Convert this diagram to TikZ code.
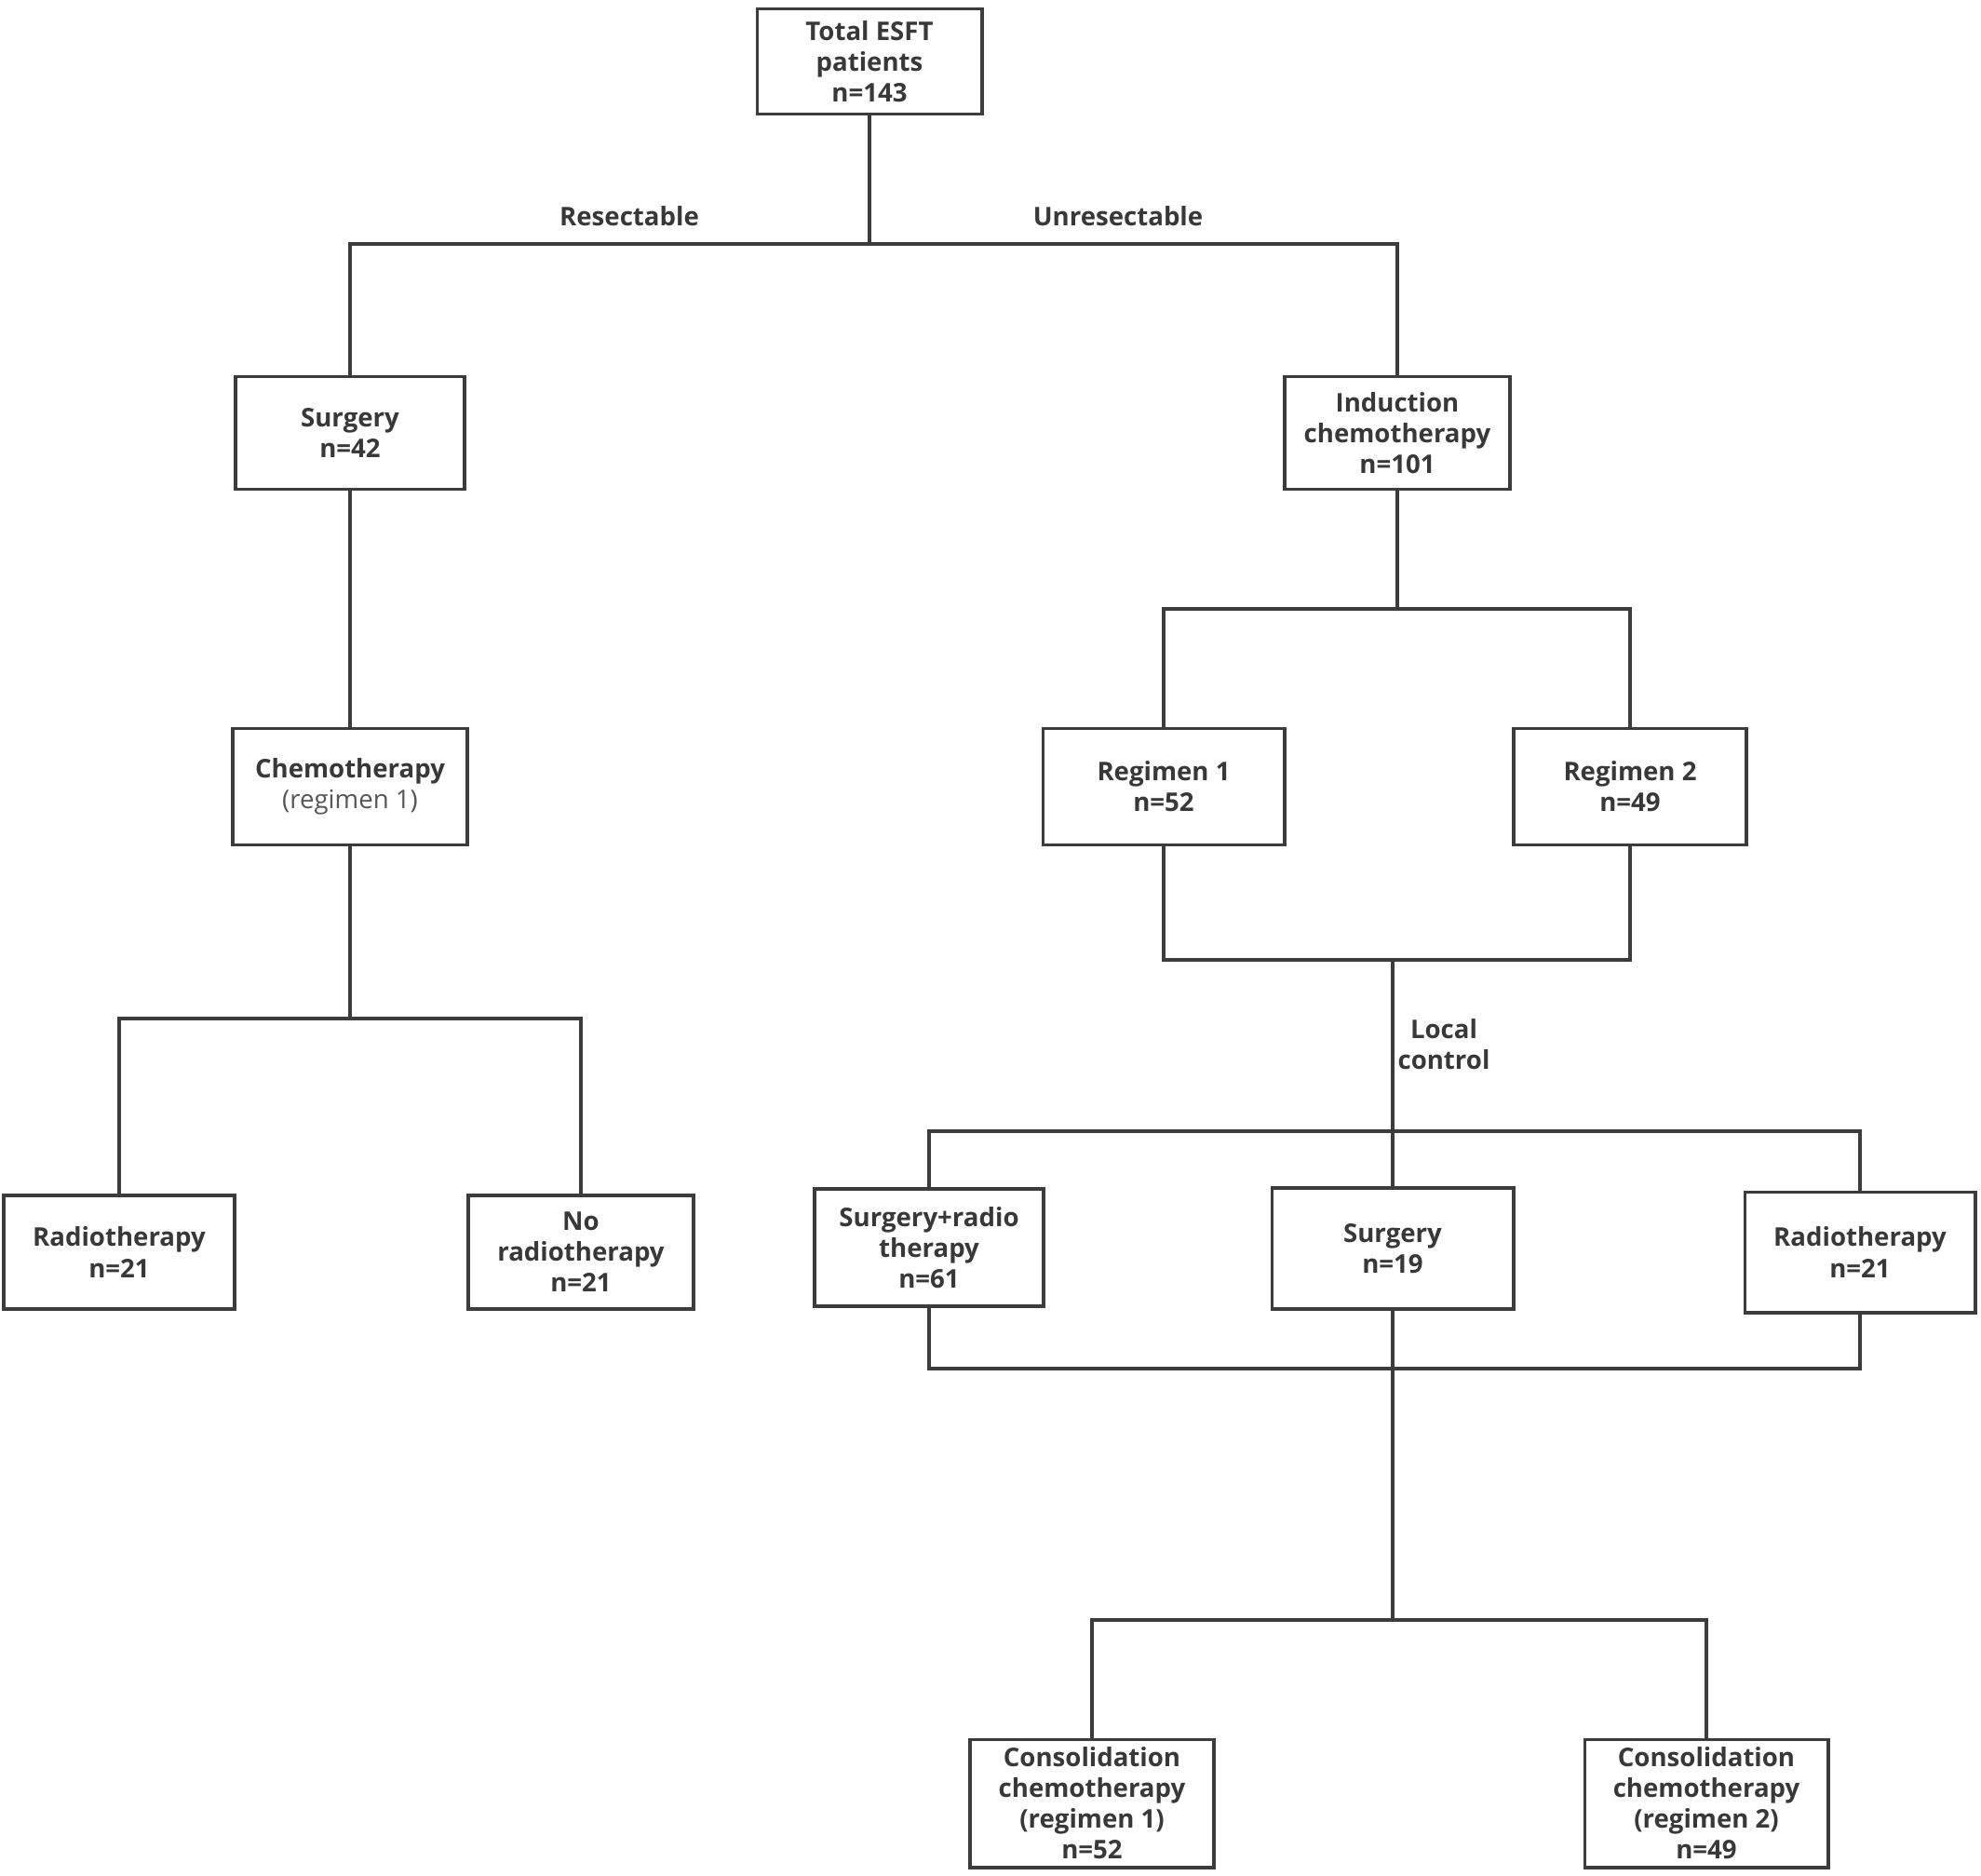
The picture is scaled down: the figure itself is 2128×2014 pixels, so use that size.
\documentclass[tikz,border=0pt]{standalone}
\usepackage{fontspec}
\setmainfont{Open Sans}
\definecolor{ln}{HTML}{3C3C3C}
\definecolor{tx}{HTML}{383838}
\begin{document}
\begin{tikzpicture}[x=0.01cm,y=-0.01cm,
  box/.style={draw=ln,line width=1.1pt,fill=white,align=center,inner sep=0pt,
    font=\fontsize{7.85}{9.4}\selectfont\bfseries,text=tx},
  lbl/.style={align=center,font=\fontsize{7.85}{9.4}\selectfont\bfseries,text=tx},
  con/.style={draw=ln,line width=1.1pt}]
\useasboundingbox (0,0) rectangle (2128,2014);
% boxes (sizes from reference, 1 px = 0.01 cm)
\node[box,minimum width=2.41cm,minimum height=1.13cm] (total) at (934,66) {Total ESFT\\patients\\n=143};
\node[box,minimum width=2.45cm,minimum height=1.21cm] (surg) at (376,465) {Surgery\\n=42};
\node[box,minimum width=2.42cm,minimum height=1.21cm] (ind) at (1501,465) {Induction\\chemotherapy\\n=101};
\node[box,minimum width=2.52cm,minimum height=1.25cm] (chemo) at (376,845) {Chemotherapy\\{\mdseries\color{tx!85}(regimen 1)}};
\node[box,minimum width=2.47cm,minimum height=1.22cm] (radL) at (128,1345) {Radiotherapy\\n=21};
\node[box,minimum width=2.42cm,minimum height=1.22cm] (norad) at (624,1345) {No\\radiotherapy\\n=21};
\node[box,minimum width=2.59cm,minimum height=1.25cm] (reg1) at (1250,845) {Regimen 1\\n=52};
\node[box,minimum width=2.50cm,minimum height=1.25cm] (reg2) at (1751,845) {Regimen 2\\n=49};
\node[box,minimum width=2.46cm,minimum height=1.26cm] (surgrad) at (998,1340) {Surgery+radio\\therapy\\n=61};
\node[box,minimum width=2.59cm,minimum height=1.30cm] (surg2) at (1496,1341) {Surgery\\n=19};
\node[box,minimum width=2.47cm,minimum height=1.29cm] (radR) at (1998,1345) {Radiotherapy\\n=21};
\node[box,minimum width=2.62cm,minimum height=1.37cm] (cons1) at (1173,1937) {Consolidation\\chemotherapy\\(regimen 1)\\n=52};
\node[box,minimum width=2.61cm,minimum height=1.37cm] (cons2) at (1833,1937) {Consolidation\\chemotherapy\\(regimen 2)\\n=49};
% junction coordinates
\coordinate (j1) at (934,262);
\coordinate (j1l) at (376,262);
\coordinate (j1r) at (1501,262);
\coordinate (j2) at (376,1094);
\coordinate (j2l) at (128,1094);
\coordinate (j2r) at (624,1094);
\coordinate (j3) at (1501,654);
\coordinate (j3l) at (1250,654);
\coordinate (j3r) at (1751,654);
\coordinate (m1l) at (1250,1031);
\coordinate (m1r) at (1751,1031);
\coordinate (m1) at (1496,1031);
\coordinate (j4) at (1496,1215);
\coordinate (j4l) at (998,1215);
\coordinate (j4r) at (1998,1215);
\coordinate (m2l) at (998,1470);
\coordinate (m2r) at (1998,1470);
\coordinate (m2) at (1496,1470);
\coordinate (j5) at (1496,1740);
\coordinate (j5l) at (1173,1740);
\coordinate (j5r) at (1833,1740);
% connectors
\draw[con] (total.south) -- (j1);
\draw[con] (surg.north) -- (j1l) -- (j1r) -- (ind.north);
\draw[con] (surg.south) -- (chemo.north);
\draw[con] (chemo.south) -- (j2);
\draw[con] (radL.north) -- (j2l) -- (j2r) -- (norad.north);
\draw[con] (ind.south) -- (j3);
\draw[con] (reg1.north) -- (j3l) -- (j3r) -- (reg2.north);
\draw[con] (reg1.south) -- (m1l) -- (m1r) -- (reg2.south);
\draw[con] (m1) -- (j4);
\draw[con] (surgrad.north) -- (j4l) -- (j4r) -- (radR.north);
\draw[con] (j4) -- (surg2.north);
\draw[con] (surgrad.south) -- (m2l) -- (m2r) -- (radR.south);
\draw[con] (surg2.south) -- (m2);
\draw[con] (m2) -- (j5);
\draw[con] (cons1.north) -- (j5l) -- (j5r) -- (cons2.north);
% labels
\node[lbl] (res) at (676,232) {Resectable};
\node[lbl] (unres) at (1201,232) {Unresectable};
\node[lbl] (local) at (1551,1122) {Local\\control};
\end{tikzpicture}
\end{document}
